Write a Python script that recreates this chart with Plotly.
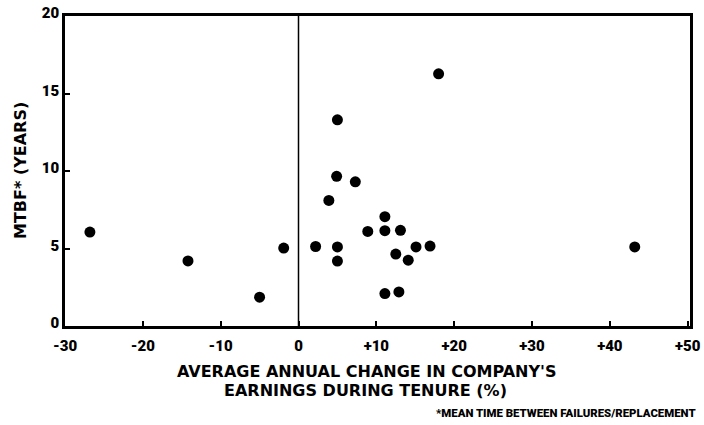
import plotly.graph_objects as go

earnings_change = [-26.8, -14.2, -5.0, -1.9, 2.2, 3.9, 4.9, 5.0, 5.0, 5.0, 7.3, 8.9,
                   11.1, 11.1, 11.1, 12.5, 12.9, 13.1, 14.1, 15.1, 16.9, 18.0, 43.2]
mtbf_years = [6.06, 4.2, 1.86, 5.03, 5.13, 8.1, 9.66, 13.3, 5.1, 4.19, 9.3, 6.1,
              7.05, 6.15, 2.09, 4.64, 2.2, 6.17, 4.25, 5.1, 5.16, 16.27, 5.1]

x_tickvals = [-30, -20, -10, 0, 10, 20, 30, 40, 50]
x_ticktext = ["-30", "-20", "-10", "0", "+10", "+20", "+30", "+40", "+50"]
y_tickvals = [0, 5, 10, 15, 20]
y_ticktext = ["0", "5", "10", "15", "20"]

FONT = "Roboto"
W = 900
TFONT = "DejaVu Sans"

fig = go.Figure()
fig.add_trace(go.Scatter(
    x=earnings_change, y=mtbf_years, mode="markers",
    marker=dict(color="black", size=11),
    hoverinfo="x+y", showlegend=False,
))

fig.add_shape(type="line", xref="x", yref="paper", x0=0, x1=0, y0=0, y1=1,
              line=dict(color="black", width=1.5))

PW, PH = 625, 310
L, T = 65, 16

fig.update_layout(
    width=704, height=425,
    margin=dict(l=L, r=704 - L - PW, t=T, b=425 - T - PH),
    paper_bgcolor="white", plot_bgcolor="white",
    font=dict(family=FONT, color="black", size=13),
    xaxis=dict(range=[-30, 50.3], tickvals=x_tickvals, ticktext=x_ticktext,
               showgrid=False, zeroline=False, showline=True, linecolor="black",
               linewidth=2.5, mirror=True, ticks="inside", ticklen=5, tickwidth=1.5,
               tickcolor="black", automargin=False, ticklabelstandoff=4,
               tickfont=dict(family=FONT, size=15, weight=W)),
    yaxis=dict(range=[0, 20], tickvals=y_tickvals, ticktext=y_ticktext,
               showgrid=False, zeroline=False, showline=True, linecolor="black",
               linewidth=2.5, mirror=True, ticks="inside", ticklen=5, tickwidth=1.5,
               tickcolor="black", automargin=False, ticklabelshift=-3,
               tickfont=dict(family=FONT, size=15, weight=W)),
    annotations=[
        dict(text="MTBF* (YEARS)", xref="paper", yref="paper", x=(20 - L) / PW, y=0.5,
             xanchor="center", yanchor="middle", textangle=-90, showarrow=False,
             font=dict(family=TFONT, size=16, weight="bold")),
        dict(text="AVERAGE ANNUAL CHANGE IN COMPANY'S", xref="paper", yref="paper",
             x=(367 - L) / PW, y=-(371 - T - PH) / PH, xanchor="center", yanchor="middle",
             showarrow=False, font=dict(family=TFONT, size=16, weight="bold")),
        dict(text="EARNINGS DURING TENURE (%)", xref="paper", yref="paper",
             x=(365 - L) / PW, y=-(390 - T - PH) / PH, xanchor="center", yanchor="middle",
             showarrow=False, font=dict(family=TFONT, size=16, weight="bold")),
        dict(text="*MEAN TIME BETWEEN FAILURES/REPLACEMENT", xref="paper", yref="paper",
             x=(698 - L) / PW, y=-(413 - T - PH) / PH, xanchor="right", yanchor="middle",
             showarrow=False, font=dict(family=FONT, size=11.4, weight=W)),
    ],
)

fig.write_html("out.html", config={"displayModeBar": False},
               post_script="document.body.style.margin='0';")
